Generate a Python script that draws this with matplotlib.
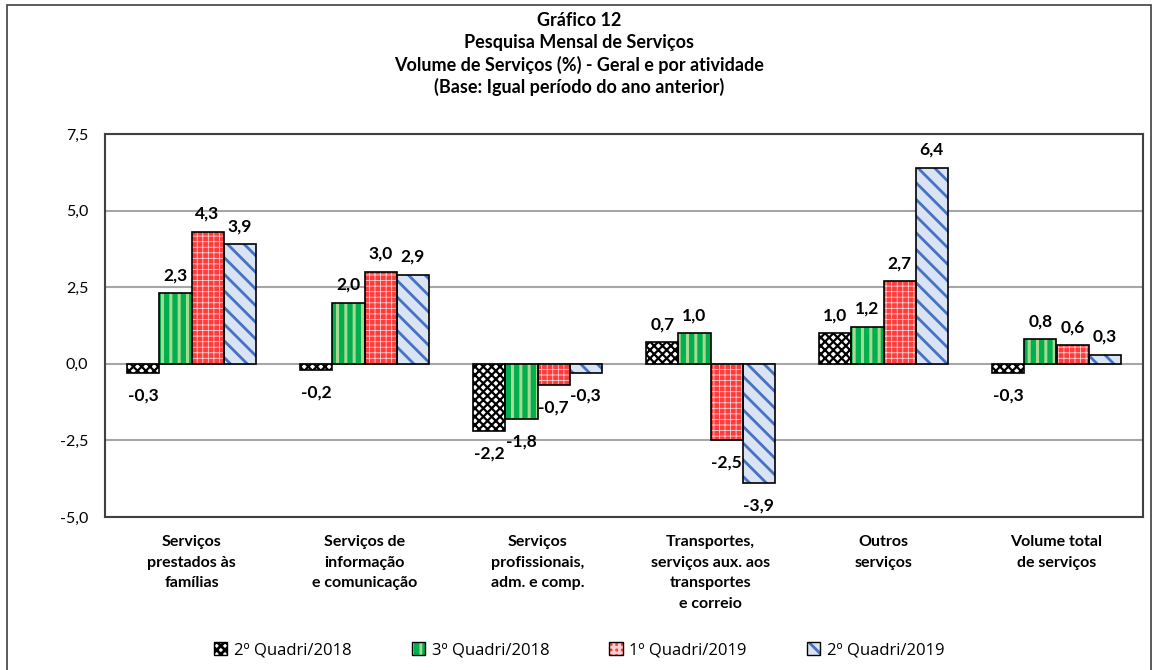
import matplotlib
matplotlib.use("Agg")
import matplotlib.pyplot as plt
from matplotlib.patches import Patch, Rectangle
from matplotlib.legend_handler import HandlerTuple
from matplotlib.ticker import FuncFormatter

categorias = [
    "Serviços\nprestados às\nfamílias",
    "Serviços de\ninformação\ne comunicação",
    "Serviços\nprofissionais,\nadm. e comp.",
    "Transportes,\nserviços aux. aos\ntransportes\ne correio",
    "Outros\nserviços",
    "Volume total\nde serviços",
]
series = ["2º Quadri/2018", "3º Quadri/2018", "1º Quadri/2019", "2º Quadri/2019"]
q2_2018 = [-0.3, -0.2, -2.2, 0.7, 1.0, -0.3]
q3_2018 = [2.3, 2.0, -1.8, 1.0, 1.2, 0.8]
q1_2019 = [4.3, 3.0, -0.7, -2.5, 2.7, 0.6]
q2_2019 = [3.9, 2.9, -0.3, -3.9, 6.4, 0.3]
valores = [q2_2018, q3_2018, q1_2019, q2_2019]

# estilo de cada serie: fundo, cor da hachura, hachura, espessura
estilos = [
    ("white", "black", "xxxx", 1.6),
    ("#00B050", "#A9D98E", "||", 2.2),
    ("#FF3B3B", "#FFD0D0", "+++", 0.6),
    ("#DAE3F3", "#4472C4", "\\\\", 2.0),
]

fonte = ["Lato", "DejaVu Sans"]
plt.rcParams["font.family"] = fonte

fig = plt.figure(figsize=(11.58, 6.70), dpi=100)
ax = fig.add_axes([105 / 1158, 1 - 517 / 670, 1038 / 1158, 383 / 670])

# moldura externa
fig.patches.append(Rectangle((7 / 1158, -0.02), 1144 / 1158, 1 - 5 / 670 + 0.02,
                             transform=fig.transFigure, fill=False,
                             edgecolor="#404040", linewidth=1.2))

largura = 0.185
x = list(range(len(categorias)))
handles = []
for j, (vals, (fc, hc, hatch, hlw)) in enumerate(zip(valores, estilos)):
    pos = [i + (j - 1.5) * largura for i in x]
    plt.rcParams["hatch.linewidth"] = hlw
    ax.bar(pos, vals, largura, color=fc, edgecolor=hc, hatch=hatch, linewidth=0, zorder=3)
    ax.bar(pos, vals, largura, facecolor="none", edgecolor="black", linewidth=1.2, zorder=4)
    for p, v in zip(pos, vals):
        off = 13 if v >= 0 else -16
        ax.annotate(f"{v:.1f}".replace(".", ","), (p, v), xytext=(0, off),
                    textcoords="offset points", ha="center", va="center",
                    fontsize=12.5, fontweight="bold", color="black", zorder=5)
    handles.append((Patch(facecolor=fc, edgecolor=hc, hatch=hatch, linewidth=0),
                    Patch(facecolor="none", edgecolor="black", linewidth=1.0)))

ax.set_xlim(-0.5, len(categorias) - 0.5)
ax.set_ylim(-5, 7.5)
ax.set_yticks([-5, -2.5, 0, 2.5, 5, 7.5])
ax.yaxis.set_major_formatter(FuncFormatter(lambda v, _: f"{v:.1f}".replace(".", ",")))
ax.grid(axis="y", color="#A6A6A6", linewidth=1.5, zorder=0)
ax.set_axisbelow(True)
ax.set_xticks(x)
ax.set_xticklabels(categorias, fontsize=11.5, fontweight="bold", linespacing=1.6, va="top")
ax.tick_params(axis="x", length=0, pad=13)
ax.tick_params(axis="y", length=0, pad=12, labelsize=11.5)
for s in ax.spines.values():
    s.set_color("#404040")
    s.set_linewidth(1.5)

titulos = [
    "Gráfico 12",
    "Pesquisa Mensal de Serviços",
    "Volume de Serviços (%) - Geral e por atividade",
    "(Base: Igual período do ano anterior)",
]
for k, t in enumerate(titulos):
    fig.text(0.5, 1 - (20 + 22.3 * k) / 670, t, ha="center", va="center",
             fontsize=13, fontweight="bold")

fig.legend(handles, series, loc="center", bbox_to_anchor=(0.5, 1 - 650 / 670),
           ncol=4, frameon=False, handler_map={tuple: HandlerTuple(ndivide=1)},
           handlelength=0.8, handleheight=0.8, handletextpad=0.4, columnspacing=3.6,
           prop={"family": ["Open Sans", "DejaVu Sans"], "size": 12})

fig.savefig("out.png", dpi=100)
